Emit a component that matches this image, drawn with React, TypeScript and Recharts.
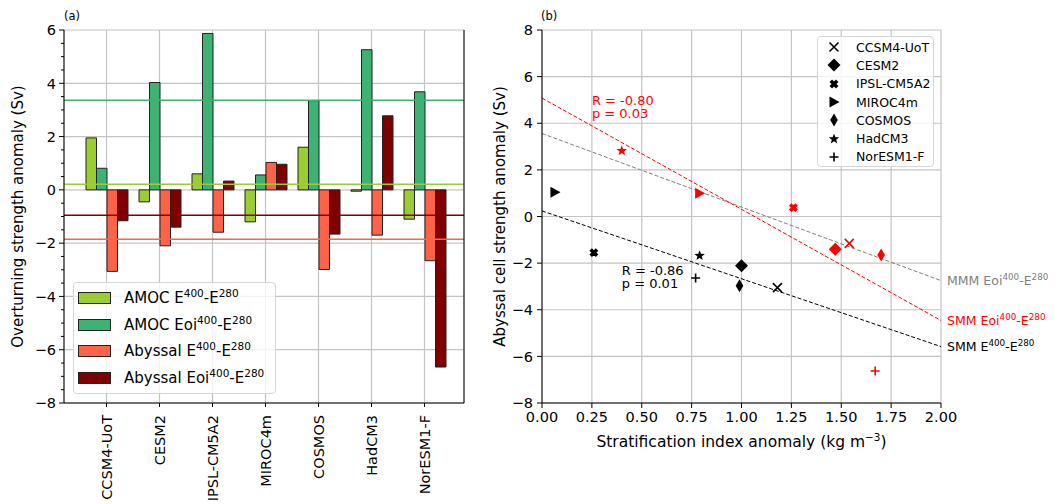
import {
  Bar,
  BarChart,
  CartesianGrid,
  ReferenceDot,
  ReferenceLine,
  Scatter,
  ScatterChart,
  XAxis,
  YAxis,
} from "recharts";

const FONT = '"DejaVu Sans", sans-serif';

const MODELS = [
  "CCSM4-UoT",
  "CESM2",
  "IPSL-CM5A2",
  "MIROC4m",
  "COSMOS",
  "HadCM3",
  "NorESM1-F",
];

// (a) overturning strength anomaly, Sv
const AMOC_E400 = [1.95, -0.45, 0.6, -1.2, 1.6, -0.05, -1.1];
const AMOC_EOI400 = [0.81, 4.03, 5.87, 0.56, 3.35, 5.26, 3.68];
const ABYSS_E400 = [-3.06, -2.1, -1.59, 1.03, -2.99, -1.7, -2.66];
const ABYSS_EOI400 = [-1.16, -1.4, 0.33, 0.96, -1.66, 2.78, -6.65];
// ensemble means, same order as the bar series
const MEANS = [0.21, 3.36, -1.85, -0.95];

// (b) stratification index anomaly vs abyssal cell anomaly
const STRAT_E400 = [1.18, 1.0, 0.26, 0.065, 0.99, 0.79, 0.77];
const ABYSSAL_E400 = [-3.05, -2.11, -1.55, 1.04, -2.97, -1.68, -2.64];
const STRAT_EOI400 = [1.54, 1.47, 1.26, 0.79, 1.7, 0.4, 1.67];
const ABYSSAL_EOI400 = [-1.15, -1.41, 0.38, 1.0, -1.65, 2.82, -6.63];

// fitted lines, value at x = 0 and x = 2
const FIT_X = [0, 2];
const FIT_SMM_E400 = [0.24, -5.58];
const FIT_SMM_EOI400 = [5.08, -4.46];
const FIT_MMM_EOI400 = [3.56, -2.75];

const A_Y_TICKS = Array.from({ length: 29 }, (_, i) => -8 + i * 0.5);
const A_Y_MAJOR = [-8, -6, -4, -2, 0, 2, 4, 6];
const B_X_TICKS = [0, 0.25, 0.5, 0.75, 1, 1.25, 1.5, 1.75, 2];
const B_Y_TICKS = [-8, -6, -4, -2, 0, 2, 4, 6, 8];

const BAR_COLORS = ["#9acd32", "#3cb371", "#ff6347", "#800000"];
const MARKERS = ["x", "D", "X", ">", "d", "*", "+"];

const SERIES = [
  { key: "amocE400", label: "AMOC", exp: "E" },
  { key: "amocEoi400", label: "AMOC", exp: "Eoi" },
  { key: "abyssE400", label: "Abyssal", exp: "E" },
  { key: "abyssEoi400", label: "Abyssal", exp: "Eoi" },
];

const barData = MODELS.map((model, i) => ({
  model,
  amocE400: AMOC_E400[i],
  amocEoi400: AMOC_EOI400[i],
  abyssE400: ABYSS_E400[i],
  abyssEoi400: ABYSS_EOI400[i],
}));

const e400Points = MODELS.map((model, i) => ({ model, idx: i, x: STRAT_E400[i], y: ABYSSAL_E400[i] }));
const eoiPoints = MODELS.map((model, i) => ({ model, idx: i, x: STRAT_EOI400[i], y: ABYSSAL_EOI400[i] }));

const fmt = (v: number) => String(v).replace("-", "\u2212");

const ModelMarker = ({ kind, cx, cy, color }: { kind: string; cx: number; cy: number; color: string }) => {
  switch (kind) {
    case "x":
      return (
        <path
          d={`M${cx - 4.5},${cy - 4.5}L${cx + 4.5},${cy + 4.5}M${cx - 4.5},${cy + 4.5}L${cx + 4.5},${cy - 4.5}`}
          stroke={color}
          strokeWidth={1.6}
        />
      );
    case "D":
      return <polygon points={`${cx},${cy - 6.5} ${cx + 6.5},${cy} ${cx},${cy + 6.5} ${cx - 6.5},${cy}`} fill={color} />;
    case "X":
      return (
        <path
          d={`M${cx - 3.2},${cy - 3.2}L${cx + 3.2},${cy + 3.2}M${cx - 3.2},${cy + 3.2}L${cx + 3.2},${cy - 3.2}`}
          stroke={color}
          strokeWidth={3.6}
        />
      );
    case ">":
      return <polygon points={`${cx + 5.5},${cy} ${cx - 4.5},${cy - 5.5} ${cx - 4.5},${cy + 5.5}`} fill={color} />;
    case "d":
      return <polygon points={`${cx},${cy - 6.5} ${cx + 3.8},${cy} ${cx},${cy + 6.5} ${cx - 3.8},${cy}`} fill={color} />;
    case "*": {
      const pts = Array.from({ length: 10 }, (_, k) => {
        const r = k % 2 === 0 ? 5.5 : 2.3;
        const a = -Math.PI / 2 + (k * Math.PI) / 5;
        return `${cx + r * Math.cos(a)},${cy + r * Math.sin(a)}`;
      }).join(" ");
      return <polygon points={pts} fill={color} />;
    }
    default:
      return (
        <path
          d={`M${cx - 4.5},${cy}L${cx + 4.5},${cy}M${cx},${cy - 4.5}L${cx},${cy + 4.5}`}
          stroke={color}
          strokeWidth={1.6}
        />
      );
  }
};

const LeftTick = ({ x, y, payload }: any) => {
  const major = payload.value % 2 === 0;
  return (
    <g>
      <line x1={x} x2={x - (major ? 5 : 3)} y1={y} y2={y} stroke="#000" />
      {major && (
        <text x={x - 8} y={y} dy="0.36em" textAnchor="end" fontSize={14.5} fill="#000" fontFamily={FONT}>
          {fmt(payload.value)}
        </text>
      )}
    </g>
  );
};

const RightTick = ({ x, y, payload }: any) => {
  const major = payload.value % 2 === 0;
  return <line x1={x} x2={x + (major ? 5 : 3)} y1={y} y2={y} stroke="#000" />;
};

const ModelTick = ({ x, y, payload }: any) => (
  <text
    transform={`translate(${x},${y}) rotate(-90)`}
    dy="0.36em"
    textAnchor="end"
    fontSize={14.5}
    fill="#000"
    fontFamily={FONT}
  >
    {payload.value}
  </text>
);

const SupText = ({ x, y, fill, prefix, exp }: any) => (
  <text x={x} y={y} fill={fill} fontSize={12.5} fontFamily={FONT}>
    {prefix} {exp}
    <tspan dy={-5} fontSize={8.8}>400</tspan>
    <tspan dy={5}>-E</tspan>
    <tspan dy={-5} fontSize={8.8}>280</tspan>
  </text>
);

const endLabel = (prefix: string, exp: string, fill: string) => (p: any) =>
  <SupText x={p.viewBox.x + 6} y={p.viewBox.y + 4.5} fill={fill} prefix={prefix} exp={exp} />;

const statLabel = (lines: string[], fill: string) => (p: any) =>
  (
    <text x={p.viewBox.x} y={p.viewBox.y} fill={fill} fontSize={13} fontFamily={FONT}>
      {lines.map((t, i) => (
        <tspan key={t} x={p.viewBox.x} dy={i === 0 ? 0 : 13}>
          {t}
        </tspan>
      ))}
    </text>
  );

const Sup = ({ children }: any) => (
  <sup style={{ fontSize: "0.7em", lineHeight: 0, verticalAlign: "0.55em" }}>{children}</sup>
);

const PanelA = () => (
  <BarChart
    width={480}
    height={504}
    data={barData}
    margin={{ top: 30, right: 0, bottom: 0, left: 0 }}
    barGap={0}
    barSize={10.5}
  >
    <CartesianGrid yAxisId="left" horizontalValues={A_Y_MAJOR} stroke="#c4c4c4" strokeWidth={1.2} />
    <XAxis
      dataKey="model"
      height={101}
      padding={{ left: 16, right: 13 }}
      interval={0}
      tick={<ModelTick />}
      tickSize={4}
      tickMargin={8}
      tickLine={{ stroke: "#000" }}
      axisLine={{ stroke: "#000" }}
    />
    <XAxis
      xAxisId="top"
      dataKey="model"
      orientation="top"
      height={0}
      tick={false}
      tickLine={false}
      axisLine={{ stroke: "#000" }}
    />
    <YAxis
      yAxisId="left"
      type="number"
      width={64}
      domain={[-8, 6]}
      ticks={A_Y_TICKS}
      interval={0}
      tickSize={0}
      tickMargin={0}
      tickLine={false}
      tick={<LeftTick />}
      axisLine={{ stroke: "#000" }}
      label={{
        content: (p: any) => {
          const cx = 18;
          const cy = p.viewBox.y + p.viewBox.height / 2;
          return (
            <text
              transform={`translate(${cx},${cy}) rotate(-90)`}
              textAnchor="middle"
              dy="0.36em"
              fontSize={15}
              fontFamily={FONT}
              fill="#000"
            >
              Overturning strength anomaly (Sv)
            </text>
          );
        },
      }}
    />
    <YAxis
      yAxisId="right"
      type="number"
      orientation="right"
      width={16}
      domain={[-8, 6]}
      ticks={A_Y_TICKS}
      interval={0}
      tickSize={0}
      tickMargin={0}
      tickLine={false}
      tick={<RightTick />}
      axisLine={{ stroke: "#000" }}
    />
    {SERIES.map((s, i) => (
      <Bar
        key={s.key}
        yAxisId="left"
        dataKey={s.key}
        fill={BAR_COLORS[i]}
        stroke="#222"
        strokeWidth={1}
        isAnimationActive={false}
      />
    ))}
    {MEANS.map((m, i) => (
      <ReferenceLine key={i} yAxisId="left" y={m} stroke={BAR_COLORS[i]} strokeWidth={1.5} />
    ))}
  </BarChart>
);

const PanelB = () => (
  <ScatterChart width={575} height={504} margin={{ top: 30, right: 114, bottom: 0, left: 0 }}>
    <CartesianGrid stroke="#c4c4c4" strokeWidth={1.2} />
    <XAxis
      type="number"
      dataKey="x"
      domain={[0, 2]}
      ticks={B_X_TICKS}
      interval={0}
      height={101}
      tickFormatter={(v: number) => v.toFixed(2)}
      tickSize={5}
      tickMargin={4}
      tick={{ fontSize: 14.5, fill: "#000", fontFamily: FONT }}
      tickLine={{ stroke: "#000" }}
      axisLine={{ stroke: "#000" }}
      label={{
        content: (p: any) => (
          <text
            x={p.viewBox.x + p.viewBox.width / 2}
            y={447}
            textAnchor="middle"
            fontSize={15.5}
            fontFamily={FONT}
            fill="#000"
          >
            Stratification index anomaly (kg m
            <tspan dy={-6} fontSize={10.5}>
              {"\u22123"}
            </tspan>
            <tspan dy={6}>)</tspan>
          </text>
        ),
      }}
    />
    <XAxis
      xAxisId="top"
      type="number"
      orientation="top"
      domain={[0, 2]}
      height={0}
      tick={false}
      tickLine={false}
      axisLine={{ stroke: "#000" }}
    />
    <YAxis
      type="number"
      dataKey="y"
      domain={[-8, 8]}
      ticks={B_Y_TICKS}
      interval={0}
      width={62}
      tickFormatter={fmt}
      tickSize={5}
      tickMargin={4}
      tick={{ fontSize: 14.5, fill: "#000", fontFamily: FONT }}
      tickLine={{ stroke: "#000" }}
      axisLine={{ stroke: "#000" }}
      label={{
        content: (p: any) => {
          const cx = 20;
          const cy = p.viewBox.y + p.viewBox.height / 2;
          return (
            <text
              transform={`translate(${cx},${cy}) rotate(-90)`}
              textAnchor="middle"
              dy="0.36em"
              fontSize={15}
              fontFamily={FONT}
              fill="#000"
            >
              Abyssal cell strength anomaly (Sv)
            </text>
          );
        },
      }}
    />
    <YAxis
      yAxisId="right"
      type="number"
      orientation="right"
      domain={[-8, 8]}
      width={0}
      tick={false}
      tickLine={false}
      axisLine={{ stroke: "#000" }}
    />
    <ReferenceLine
      segment={[
        { x: FIT_X[0], y: FIT_MMM_EOI400[0] },
        { x: FIT_X[1], y: FIT_MMM_EOI400[1] },
      ]}
      stroke="#808080"
      strokeDasharray="4 2"
    />
    <ReferenceLine
      segment={[
        { x: FIT_X[0], y: FIT_SMM_EOI400[0] },
        { x: FIT_X[1], y: FIT_SMM_EOI400[1] },
      ]}
      stroke="#ff0000"
      strokeDasharray="4 2"
    />
    <ReferenceLine
      segment={[
        { x: FIT_X[0], y: FIT_SMM_E400[0] },
        { x: FIT_X[1], y: FIT_SMM_E400[1] },
      ]}
      stroke="#000"
      strokeDasharray="4 2"
    />
    <Scatter
      data={e400Points}
      isAnimationActive={false}
      shape={(p: any) => <ModelMarker kind={MARKERS[p.payload.idx]} cx={p.cx} cy={p.cy} color="#000" />}
    />
    <Scatter
      data={eoiPoints}
      isAnimationActive={false}
      shape={(p: any) => <ModelMarker kind={MARKERS[p.payload.idx]} cx={p.cx} cy={p.cy} color="#ff0000" />}
    />
    <ReferenceDot x={FIT_X[1]} y={FIT_MMM_EOI400[1]} r={0} stroke="none" label={endLabel("MMM", "Eoi", "#808080")} />
    <ReferenceDot x={FIT_X[1]} y={FIT_SMM_EOI400[1]} r={0} stroke="none" label={endLabel("SMM", "Eoi", "#ff0000")} />
    <ReferenceDot x={FIT_X[1]} y={FIT_SMM_E400[1]} r={0} stroke="none" label={endLabel("SMM", "E", "#000")} />
    <ReferenceDot x={0.25} y={4.8} r={0} stroke="none" label={statLabel(["R = -0.80", "p = 0.03"], "#ff0000")} />
    <ReferenceDot x={0.4} y={-2.51} r={0} stroke="none" label={statLabel(["R = -0.86", "p = 0.01"], "#000")} />
  </ScatterChart>
);

export default function App() {
  return (
    <div
      style={{
        position: "absolute",
        left: 0,
        top: 0,
        width: 1055,
        height: 504,
        overflow: "hidden",
        background: "#fff",
        fontFamily: FONT,
      }}
    >
      <div style={{ position: "absolute", left: 0, top: 0 }}>
        <PanelA />
      </div>
      <div style={{ position: "absolute", left: 480, top: 0 }}>
        <PanelB />
      </div>

      <div style={{ position: "absolute", left: 64, top: 9, fontSize: 11.5 }}>(a)</div>
      <div style={{ position: "absolute", left: 541, top: 9, fontSize: 11.5 }}>(b)</div>

      {/* legend (a) */}
      <div
        style={{
          position: "absolute",
          left: 73,
          top: 282,
          width: 203,
          height: 112,
          boxSizing: "border-box",
          border: "1px solid #d6d6d6",
          borderRadius: 4,
          background: "rgba(255,255,255,0.8)",
          paddingTop: 2,
        }}
      >
        {SERIES.map((s, i) => (
          <div key={s.key} style={{ display: "flex", alignItems: "center", height: 26.5 }}>
            <span
              style={{
                marginLeft: 4,
                width: 33,
                height: 12,
                boxSizing: "border-box",
                background: BAR_COLORS[i],
                border: "1px solid #222",
              }}
            />
            <span style={{ marginLeft: 13, fontSize: 15, whiteSpace: "nowrap" }}>
              {s.label} {s.exp}
              <Sup>400</Sup>-E<Sup>280</Sup>
            </span>
          </div>
        ))}
      </div>

      {/* legend (b) */}
      <div
        style={{
          position: "absolute",
          left: 817,
          top: 36,
          width: 117,
          height: 131,
          boxSizing: "border-box",
          border: "1px solid #d6d6d6",
          borderRadius: 4,
          background: "rgba(255,255,255,0.8)",
          paddingTop: 1,
        }}
      >
        {MODELS.map((m, i) => (
          <div key={m} style={{ display: "flex", alignItems: "center", height: 18.3 }}>
            <svg width={20} height={16} style={{ marginLeft: 6 }}>
              <ModelMarker kind={MARKERS[i]} cx={10} cy={8} color="#000" />
            </svg>
            <span style={{ marginLeft: 12, fontSize: 12.5, whiteSpace: "nowrap" }}>{m}</span>
          </div>
        ))}
      </div>
    </div>
  );
}
